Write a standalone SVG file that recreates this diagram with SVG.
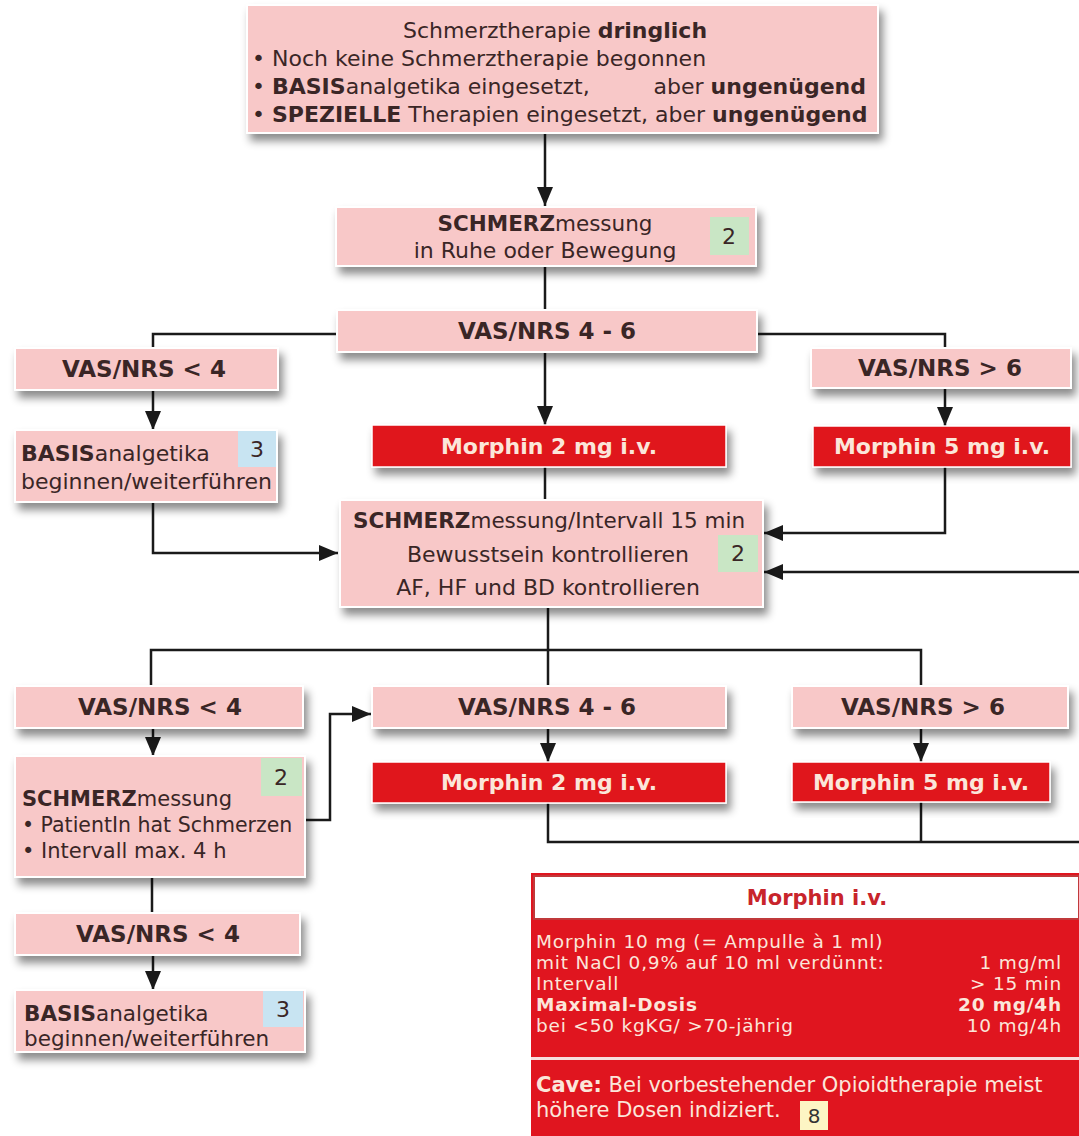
<svg xmlns="http://www.w3.org/2000/svg" width="1079" height="1136" viewBox="0 0 1079 1136">
<defs>
<filter id="sh" x="-10%" y="-20%" width="130%" height="160%">
<feDropShadow dx="4" dy="7" stdDeviation="4" flood-color="#000" flood-opacity="0.45"/>
</filter>
<marker id="ah" markerUnits="userSpaceOnUse" markerWidth="20" markerHeight="20" viewBox="0 0 20 20" refX="19" refY="10" orient="auto">
<path d="M0,2 L19,10 L0,18 Z" fill="#1a1a1a"/>
</marker>
<style>
.pk{fill:#f8c8c8;stroke:#fff;stroke-width:2}
.rd{fill:#e0151f;stroke:#fff;stroke-width:1.5}
.t{font-family:"DejaVu Sans",Verdana,sans-serif;fill:#3a2626}
.b{font-weight:bold}
.v{font-family:"DejaVu Sans",Verdana,sans-serif;fill:#3a2626;font-weight:bold;font-size:23px;text-anchor:middle}
.mw{font-family:"DejaVu Sans",Verdana,sans-serif;font-weight:bold;fill:#fbe6da;font-size:22px;text-anchor:middle}
.w{font-family:"DejaVu Sans",Verdana,sans-serif;fill:#fbe6da;font-size:18.5px;letter-spacing:0.8px}
.w2{font-family:"DejaVu Sans",Verdana,sans-serif;fill:#fbe6da;font-size:21px}
.c{fill:none;stroke:#1a1a1a;stroke-width:2.5}
.ca{fill:none;stroke:#1a1a1a;stroke-width:2.5;marker-end:url(#ah)}
.gb{fill:#c9e6c5}
.bb{fill:#c8e4f2}
</style>
</defs>

<g id="connectors">
<line class="ca" x1="545" y1="134" x2="545" y2="206"/>
<line class="c" x1="545" y1="266" x2="545" y2="310"/>
<polyline class="c" points="337,334 153,334 153,348"/>
<polyline class="c" points="757,334 945,334 945,348"/>
<line class="ca" x1="153" y1="390" x2="153" y2="430"/>
<line class="ca" x1="545" y1="352" x2="545" y2="425"/>
<line class="ca" x1="945" y1="388" x2="945" y2="426"/>
<line class="c" x1="545" y1="467" x2="545" y2="500"/>
<polyline class="ca" points="153,502 153,553 338,553"/>
<polyline class="ca" points="945,467 945,533 764,533"/>
<line class="ca" x1="1079" y1="572" x2="764" y2="572"/>
<line class="c" x1="548" y1="607" x2="548" y2="686"/>
<polyline class="c" points="151,686 151,650 921,650 921,686"/>
<line class="ca" x1="153" y1="728" x2="153" y2="756"/>
<polyline class="ca" points="305,820 330,820 330,714 371,714"/>
<line class="ca" x1="548" y1="728" x2="548" y2="762"/>
<line class="ca" x1="921" y1="728" x2="921" y2="762"/>
<polyline class="c" points="548,803 548,842 1079,842"/>
<line class="c" x1="921" y1="802" x2="921" y2="842"/>
<line class="c" x1="152" y1="877" x2="152" y2="913"/>
<line class="ca" x1="153" y1="955" x2="153" y2="990"/>
</g>

<g id="n-start">
<rect class="pk" x="247" y="5" width="631" height="128" filter="url(#sh)"/>
<g class="t" font-size="22">
<text x="555" y="38" text-anchor="middle">Schmerztherapie <tspan class="b">dringlich</tspan></text>
<text x="252" y="66">• Noch keine Schmerztherapie begonnen</text>
<text x="252" y="94">• <tspan class="b">BASIS</tspan>analgetika eingesetzt,</text>
<text x="866" y="94" text-anchor="end">aber <tspan class="b">ungenügend</tspan></text>
<text x="252" y="122">• <tspan class="b">SPEZIELLE</tspan> Therapien eingesetzt, aber <tspan class="b">ungenügend</tspan></text>
</g>
</g>

<g id="n-messung1">
<rect class="pk" x="336" y="207" width="420" height="59" filter="url(#sh)"/>
<rect class="gb" x="710" y="217" width="39" height="38"/>
<text class="t" x="729" y="244" font-size="22" text-anchor="middle">2</text>
<text class="t" x="545" y="231" font-size="21.5" text-anchor="middle"><tspan class="b">SCHMERZ</tspan>messung</text>
<text class="t" x="545" y="258" font-size="22" text-anchor="middle">in Ruhe oder Bewegung</text>
</g>

<g id="n-vas46a">
<rect class="pk" x="337" y="310" width="420" height="42" filter="url(#sh)"/>
<text class="v" x="547" y="339">VAS/NRS 4 - 6</text>
</g>

<g id="n-vaslt4a">
<rect class="pk" x="15" y="348" width="263" height="42" filter="url(#sh)"/>
<text class="v" x="144" y="377">VAS/NRS &lt; 4</text>
</g>

<g id="n-vasgt6a">
<rect class="pk" x="811" y="348" width="260" height="40" filter="url(#sh)"/>
<text class="v" x="940" y="376">VAS/NRS &gt; 6</text>
</g>

<g id="n-basis1">
<rect class="pk" x="15" y="430" width="262" height="72" filter="url(#sh)"/>
<rect class="bb" x="238" y="431" width="38" height="36"/>
<text class="t" x="257" y="457" font-size="22" text-anchor="middle">3</text>
<text class="t" x="21" y="461" font-size="22"><tspan class="b">BASIS</tspan>analgetika</text>
<text class="t" x="21" y="489" font-size="22">beginnen/weiterführen</text>
</g>

<g id="n-morph2a">
<rect class="rd" x="372" y="425" width="354" height="42" filter="url(#sh)"/>
<text class="mw" x="549" y="454">Morphin 2 mg i.v.</text>
</g>

<g id="n-morph5a">
<rect class="rd" x="813" y="426" width="258" height="41" filter="url(#sh)"/>
<text class="mw" x="942" y="454">Morphin 5 mg i.v.</text>
</g>

<g id="n-messung2">
<rect class="pk" x="340" y="500" width="423" height="107" filter="url(#sh)"/>
<rect class="gb" x="718" y="535" width="40" height="37"/>
<text class="t" x="738" y="561" font-size="22" text-anchor="middle">2</text>
<text class="t" x="549" y="528" font-size="21.5" text-anchor="middle"><tspan class="b">SCHMERZ</tspan>messung/Intervall 15 min</text>
<text class="t" x="548" y="562" font-size="22" text-anchor="middle">Bewusstsein kontrollieren</text>
<text class="t" x="548" y="595" font-size="22" text-anchor="middle">AF, HF und BD kontrollieren</text>
</g>

<g id="n-vaslt4b">
<rect class="pk" x="15" y="686" width="288" height="42" filter="url(#sh)"/>
<text class="v" x="160" y="715">VAS/NRS &lt; 4</text>
</g>

<g id="n-vas46b">
<rect class="pk" x="372" y="686" width="354" height="42" filter="url(#sh)"/>
<text class="v" x="547" y="715">VAS/NRS 4 - 6</text>
</g>

<g id="n-vasgt6b">
<rect class="pk" x="792" y="686" width="276" height="42" filter="url(#sh)"/>
<text class="v" x="923" y="715">VAS/NRS &gt; 6</text>
</g>

<g id="n-messung3">
<rect class="pk" x="15" y="756" width="290" height="121" filter="url(#sh)"/>
<rect class="gb" x="261" y="758" width="41" height="38"/>
<text class="t" x="281" y="785" font-size="22" text-anchor="middle">2</text>
<text class="t" x="22" y="806" font-size="21"><tspan class="b">SCHMERZ</tspan>messung</text>
<text class="t" x="22" y="832" font-size="20.5">• PatientIn hat Schmerzen</text>
<text class="t" x="22" y="858" font-size="21">• Intervall max. 4 h</text>
</g>

<g id="n-morph2b">
<rect class="rd" x="372" y="762" width="354" height="41" filter="url(#sh)"/>
<text class="mw" x="549" y="790">Morphin 2 mg i.v.</text>
</g>

<g id="n-morph5b">
<rect class="rd" x="792" y="762" width="258" height="40" filter="url(#sh)"/>
<text class="mw" x="921" y="790">Morphin 5 mg i.v.</text>
</g>

<g id="n-vaslt4c">
<rect class="pk" x="15" y="913" width="285" height="42" filter="url(#sh)"/>
<text class="v" x="158" y="942">VAS/NRS &lt; 4</text>
</g>

<g id="n-basis2">
<rect class="pk" x="15" y="990" width="290" height="62" filter="url(#sh)"/>
<rect class="bb" x="263" y="991" width="40" height="36"/>
<text class="t" x="283" y="1017" font-size="22" text-anchor="middle">3</text>
<text class="t" x="24" y="1021" font-size="21.5"><tspan class="b">BASIS</tspan>analgetika</text>
<text class="t" x="24" y="1046" font-size="21.5">beginnen/weiterführen</text>
</g>

<g id="n-info">
<rect x="531" y="873" width="548" height="263" fill="#e0151f"/>
<rect x="534" y="876" width="545" height="43" fill="#fff" stroke="#c0393b" stroke-width="2"/>
<text x="817" y="905" font-family="'DejaVu Sans',Verdana,sans-serif" font-size="21" font-weight="bold" fill="#c8242b" text-anchor="middle">Morphin i.v.</text>
<rect x="531" y="1057" width="548" height="3" fill="#f6dede"/>
<text class="w" x="536" y="948">Morphin 10 mg (= Ampulle à 1 ml)</text>
<text class="w" x="536" y="969">mit NaCl 0,9% auf 10 ml verdünnt:</text>
<text class="w" x="536" y="990">Intervall</text>
<text class="w b" x="536" y="1011">Maximal-Dosis</text>
<text class="w" x="536" y="1032">bei  &lt;50 kgKG/ &gt;70-jährig</text>
<text class="w" x="1062" y="969" text-anchor="end">1 mg/ml</text>
<text class="w" x="1062" y="990" text-anchor="end">&gt; 15 min</text>
<text class="w b" x="1062" y="1011" text-anchor="end">20 mg/4h</text>
<text class="w" x="1062" y="1032" text-anchor="end">10 mg/4h</text>
<text class="w2" x="536" y="1092"><tspan class="b">Cave:</tspan> Bei vorbestehender Opioidtherapie meist</text>
<text class="w2" x="536" y="1117">höhere Dosen indiziert.</text>
<rect x="800" y="1101" width="28" height="29" fill="#fdf5c4"/>
<text x="814" y="1123" font-family="'DejaVu Sans',Verdana,sans-serif" font-size="20" fill="#333" text-anchor="middle">8</text>
</g>
</svg>
